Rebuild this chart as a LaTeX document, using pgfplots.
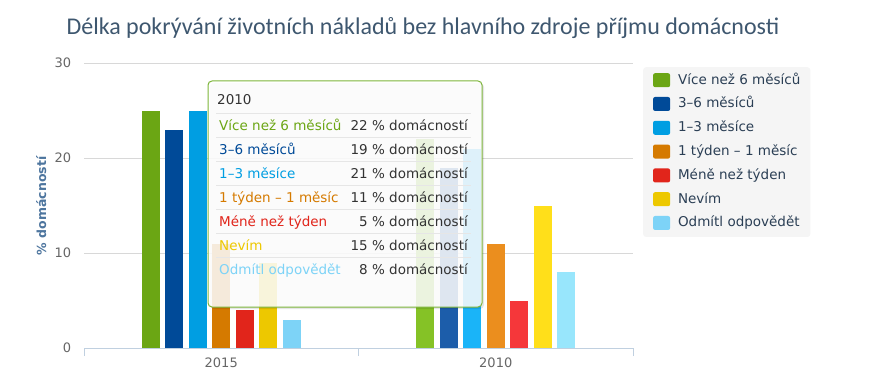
\documentclass[border=0pt]{standalone}
\usepackage{pgfplots}
\pgfplotsset{compat=1.18}
\usepackage{fontspec}
\setmainfont{DejaVu Sans}
\newfontfamily\titlefont{Carlito}
\definecolor{cA}{HTML}{6BA614}
\definecolor{cB}{HTML}{004A98}
\definecolor{cC}{HTML}{009EE2}
\definecolor{cD}{HTML}{D57A00}
\definecolor{cE}{HTML}{E1251B}
\definecolor{cF}{HTML}{EDC800}
\definecolor{cG}{HTML}{7DD3F7}
\definecolor{hA}{HTML}{85C226}
\definecolor{hB}{HTML}{1C5DAA}
\definecolor{hC}{HTML}{1AB4F8}
\definecolor{hD}{HTML}{EB8E1E}
\definecolor{hE}{HTML}{F5373A}
\definecolor{hF}{HTML}{FFDF1A}
\definecolor{hG}{HTML}{98E6FC}
\definecolor{titlecol}{HTML}{3E576F}
\definecolor{ylabcol}{HTML}{4D759E}
\definecolor{tickcol}{HTML}{666666}
\definecolor{gridcol}{HTML}{D8D8D8}
\definecolor{xaxcol}{HTML}{C0D0E0}
\definecolor{legbg}{HTML}{F5F5F5}
\definecolor{legtext}{HTML}{2B3F55}
\definecolor{tipborder}{HTML}{7DB53A}
\definecolor{tiptext}{HTML}{333333}
\definecolor{sepcol}{HTML}{E6E6E6}
\begin{document}
\begin{tikzpicture}[x=1pt,y=1pt]
\path[use as bounding box] (0,0) rectangle (869,389);
\node[anchor=base, text=titlecol, font=\titlefont\fontsize{24}{27}\selectfont] at (423,354) {Délka pokrývání životních nákladů bez hlavního zdroje příjmu domácnosti};
\begin{axis}[
  at={(84pt,41pt)}, anchor=south west,
  scale only axis, width=549pt, height=285pt,
  xmin=-0.5, xmax=1.5, ymin=0, ymax=30,
  ybar, bar width=18pt,
  /pgf/number format/assume math mode=true,
  axis x line*=bottom, axis y line*=left,
  x axis line style={draw=xaxcol, line width=1pt, -},
  y axis line style={draw=none},
  xtick={0,1}, xticklabels={2015,2010},
  minor xtick={-0.5,0.5,1.5},
  major x tick style={draw=none},
  minor x tick style={draw=xaxcol, line width=1pt},
  minor tick length=8pt,
  tick align=outside,
  ytick={0,10,20,30},
  major y tick style={draw=none},
  ymajorgrids, grid style={draw=gridcol, line width=0.8pt},
  tick label style={font=\fontsize{13}{15}\selectfont, text=tickcol},
  yticklabel style={xshift=-5pt},
  xticklabel style={yshift=-2pt},
  ylabel={\textbf{\% domácností}},
  ylabel style={font=\fontsize{12.5}{14}\selectfont, text=ylabcol,
    at={(axis description cs:-0.078,0.5)}, anchor=center},
  legend style={at={(1.018,0.986)}, anchor=north west, fill=legbg, draw=none,
    rounded corners=3pt, font=\fontsize{13.5}{16}\selectfont, text=legtext,
    inner xsep=10pt, inner ysep=6pt, row sep=8.8pt,
    nodes={inner sep=0pt, text height=10pt, text depth=4pt},
    /tikz/column sep=8pt},
  legend cell align=left,
  legend image code/.code={\fill[#1,draw=none,rounded corners=2pt] (0pt,-6pt) rectangle (17pt,8pt);},
]
\addplot[fill=cA, draw=none, bar shift=-70.5pt] coordinates {(0,25)};
\addplot[fill=cB, draw=none, bar shift=-47pt] coordinates {(0,23)};
\addplot[fill=cC, draw=none, bar shift=-23.5pt] coordinates {(0,25)};
\addplot[fill=cD, draw=none, bar shift=0pt] coordinates {(0,11)};
\addplot[fill=cE, draw=none, bar shift=23.5pt] coordinates {(0,4)};
\addplot[fill=cF, draw=none, bar shift=47pt] coordinates {(0,9)};
\addplot[fill=cG, draw=none, bar shift=70.5pt] coordinates {(0,3)};
\addplot[fill=hA, draw=none, bar shift=-70.5pt, forget plot] coordinates {(1,22)};
\addplot[fill=hB, draw=none, bar shift=-47pt, forget plot] coordinates {(1,19)};
\addplot[fill=hC, draw=none, bar shift=-23.5pt, forget plot] coordinates {(1,21)};
\addplot[fill=hD, draw=none, bar shift=0pt, forget plot] coordinates {(1,11)};
\addplot[fill=hE, draw=none, bar shift=23.5pt, forget plot] coordinates {(1,5)};
\addplot[fill=hF, draw=none, bar shift=47pt, forget plot] coordinates {(1,15)};
\addplot[fill=hG, draw=none, bar shift=70.5pt, forget plot] coordinates {(1,8)};
\legend{Více než 6 měsíců, 3–6 měsíců, 1–3 měsíce, 1 týden – 1 měsíc, Méně než týden, Nevím, Odmítl odpovědět}
\end{axis}
% tooltip
\fill[black, opacity=0.10, rounded corners=4pt] (210,80) rectangle (484,306);
\filldraw[fill=white, fill opacity=0.86, draw=tipborder, line width=1pt, rounded corners=4pt] (208,82) rectangle (482,308);
\begin{scope}[font=\fontsize{13.5}{16}\selectfont]
\node[anchor=base west, inner sep=0pt, text=tiptext] at (217,284) {2010};
\foreach \yy in {276,252,228,204,180,156,132} {\draw[sepcol, line width=0.8pt] (216,\yy) -- (471,\yy);}
\node[anchor=base west, inner sep=0pt, text=cA] at (219,259) {Více než 6 měsíců};
\node[anchor=base west, inner sep=0pt, text=cB] at (219,235) {3–6 měsíců};
\node[anchor=base west, inner sep=0pt, text=cC] at (219,211) {1–3 měsíce};
\node[anchor=base west, inner sep=0pt, text=cD] at (219,187) {1 týden – 1 měsíc};
\node[anchor=base west, inner sep=0pt, text=cE] at (219,163) {Méně než týden};
\node[anchor=base west, inner sep=0pt, text=cF] at (219,139) {Nevím};
\node[anchor=base west, inner sep=0pt, text=cG] at (219,115) {Odmítl odpovědět};
\node[anchor=base east, inner sep=0pt, text=tiptext] at (468,259) {22 \% domácností};
\node[anchor=base east, inner sep=0pt, text=tiptext] at (468,235) {19 \% domácností};
\node[anchor=base east, inner sep=0pt, text=tiptext] at (468,211) {21 \% domácností};
\node[anchor=base east, inner sep=0pt, text=tiptext] at (468,187) {11 \% domácností};
\node[anchor=base east, inner sep=0pt, text=tiptext] at (468,163) {5 \% domácností};
\node[anchor=base east, inner sep=0pt, text=tiptext] at (468,139) {15 \% domácností};
\node[anchor=base east, inner sep=0pt, text=tiptext] at (468,115) {8 \% domácností};
\end{scope}
\end{tikzpicture}
\end{document}
